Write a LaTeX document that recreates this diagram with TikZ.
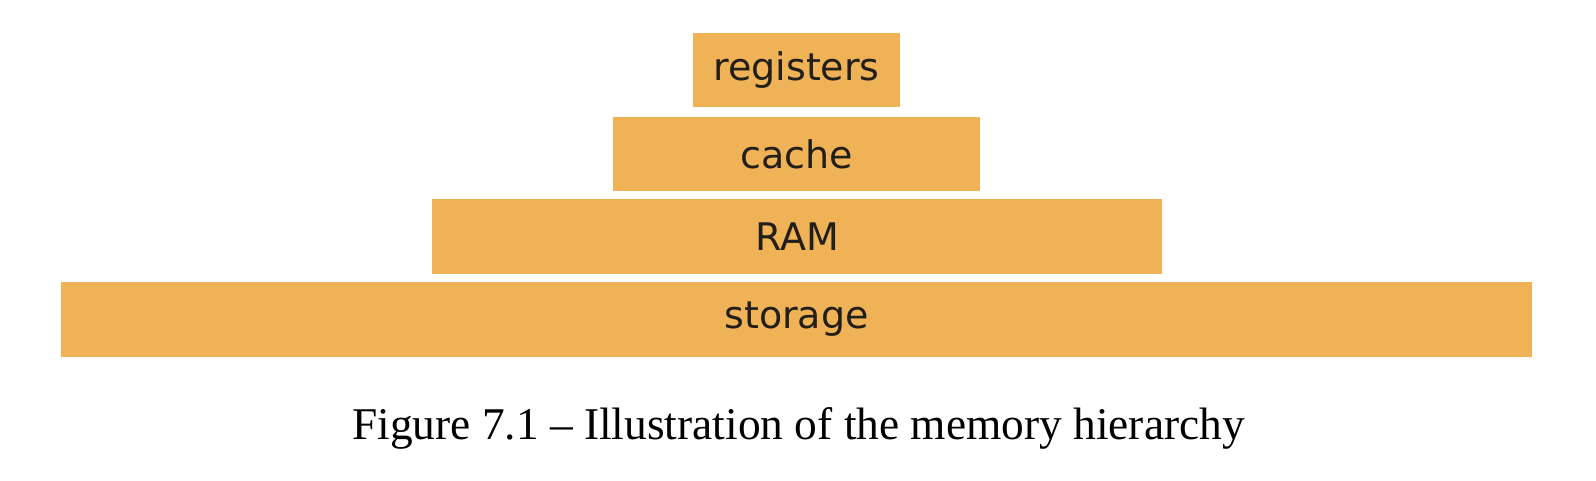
\documentclass[tikz,border=0pt]{standalone}
\usepackage{fontspec}
\setmainfont{Liberation Serif}
\newfontfamily\boxfont{DejaVu Sans}
\definecolor{tier}{RGB}{240,178,86}
\definecolor{tiertext}{RGB}{34,30,25}
\begin{document}
\begin{tikzpicture}[x=1pt,y=-1pt,
  tierbox/.style={fill=tier,draw=none,inner sep=0pt,minimum height=74pt,
    font=\boxfont\fontsize{38}{40}\selectfont,text=tiertext}]
\useasboundingbox[fill=white] (0,0) rectangle (1596,480);
\node[tierbox,minimum width=207pt] (reg) at (796.5,70) {registers};
\node[tierbox,minimum width=367pt] (cache) at (796.5,154) {cache};
\node[tierbox,minimum width=730pt,minimum height=75pt] (ram) at (797,236.5) {RAM};
\node[tierbox,minimum width=1471pt,minimum height=75pt] (stor) at (796.5,319.5) {storage};
\node[anchor=base,inner sep=0pt,font=\fontsize{45.4}{48}\selectfont] (cap) at (798.5,439) {Figure 7.1 – Illustration of the memory hierarchy};
\end{tikzpicture}
\end{document}
